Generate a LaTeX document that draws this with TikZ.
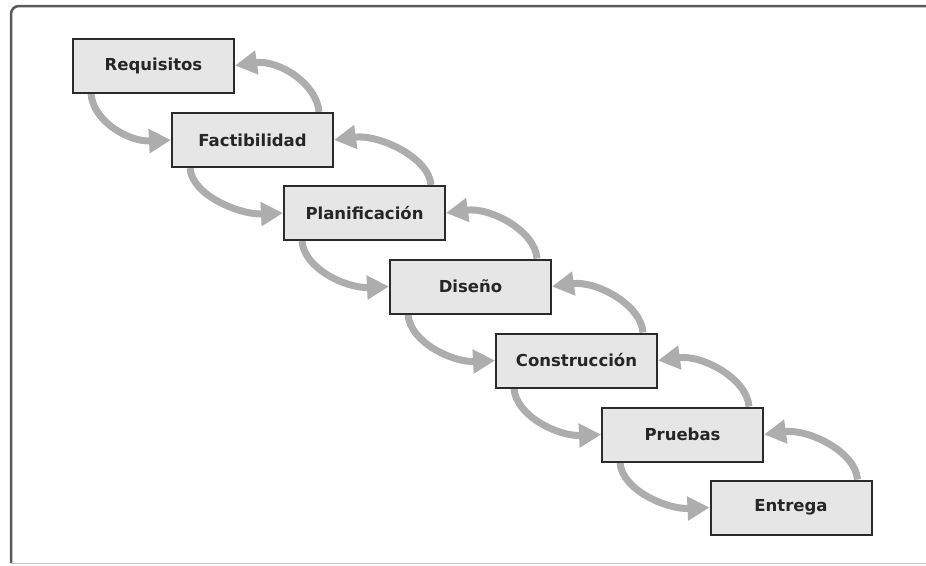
\documentclass[tikz,border=0pt]{standalone}
\usepackage{fontspec}
\setmainfont{DejaVu Sans}
\usetikzlibrary{arrows.meta,backgrounds}
\definecolor{boxfill}{HTML}{E6E6E6}
\definecolor{boxline}{HTML}{2B2B2B}
\definecolor{arrowgray}{HTML}{ADADAD}
\definecolor{framegray}{HTML}{5A5A5A}
\definecolor{framelight}{HTML}{C8C8C8}
\tikzset{
  stage/.style={draw=boxline, line width=2pt, fill=boxfill,
    minimum width=161pt, minimum height=54pt, inner sep=0pt,
    font=\fontsize{16.5}{19}\selectfont\bfseries, text=black!85},
  flow/.style={draw=arrowgray, line width=7pt,
    -{Triangle[length=22pt,width=23pt]}},
  framedark/.style={draw=framegray, line width=2.5pt},
}
\begin{document}
\begin{tikzpicture}[x=1pt,y=-1pt]
\useasboundingbox (0,0) rectangle (926,565);
% frame
\draw[framedark, rounded corners=8pt] (930,6) -- (11,6) -- (11,563);
\draw[framelight, line width=1pt] (11,563) -- (930,563);
% stages
\node[stage] (req) at (153.5,65.5) {Requisitos};
\node[stage] (fac) at (252.5,140) {Factibilidad};
\node[stage] (pla) at (364.5,213) {Planificación};
\node[stage] (dis) at (470.5,286.5) {Diseño};
\node[stage] (con) at (576.5,360.5) {Construcción};
\node[stage] (pru) at (682.5,434.5) {Pruebas};
\node[stage] (ent) at (791,507.5) {Entrega};
% arrows
\begin{scope}[on background layer]
\foreach \a/\b in {req/fac, fac/pla, pla/dis, dis/con, con/pru, pru/ent}{
  \draw[flow] ([xshift=19pt]\a.south west) .. controls +(2,28) and +(-42,2) .. (\b.west);
  \draw[flow] ([xshift=-15pt]\b.north east) .. controls +(-2,-28) and +(44,-6) .. (\a.east);
}
\end{scope}
\end{tikzpicture}
\end{document}
